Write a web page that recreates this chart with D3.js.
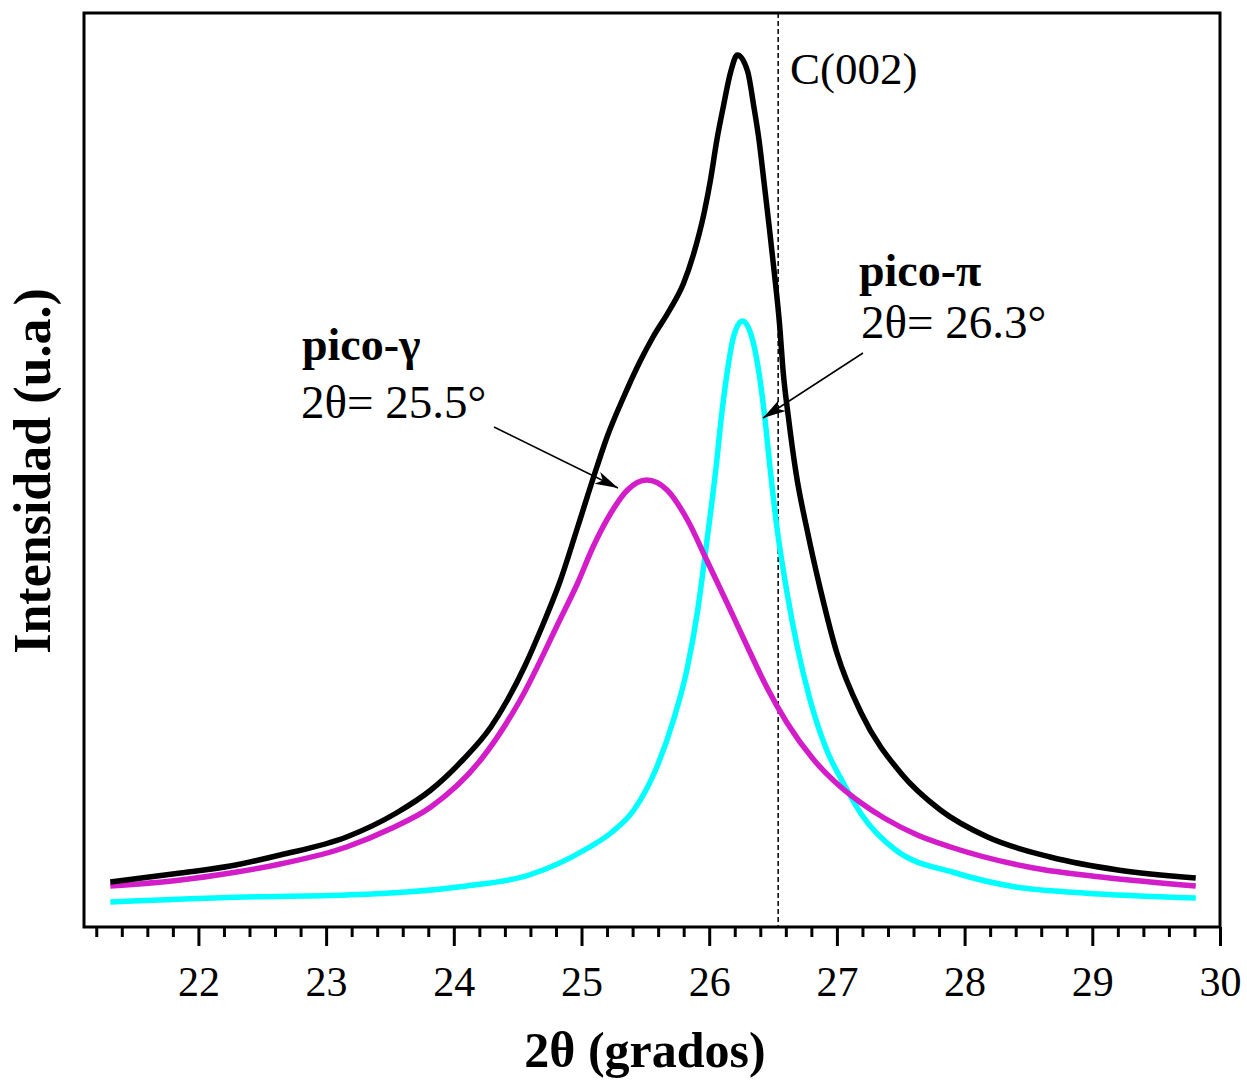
<!DOCTYPE html>
<html lang="es">
<head>
<meta charset="UTF-8">
<title>Intensidad vs 2θ</title>
<script src="https://d3js.org/d3.v7.min.js"></script>
<style>
  body { margin: 0; background: #fff; }
  svg { display: block; }
  text { font-family: "Liberation Serif", "Times New Roman", serif; fill: #000; }
</style>
</head>
<body>
<svg id="chart" width="1247" height="1080"></svg>
<script>
// 2θ (grados) vs intensidad (u.a.)
const totalX = [21.31, 21.86, 22.25, 22.64, 23.16, 23.55, 23.82, 24.07, 24.29, 24.42, 24.56, 24.68, 24.83, 24.97, 25.12,
  25.20, 25.33, 25.46, 25.56, 25.69, 25.80, 25.88, 25.96, 26.01, 26.06, 26.11, 26.17, 26.22, 26.30, 26.35,
  26.39, 26.43, 26.47, 26.51, 26.55, 26.58, 26.62, 26.68, 26.77, 26.87, 27.00, 27.19, 27.50, 27.81, 28.18,
  28.67, 29.20, 29.81];
const totalY = [45, 54, 61, 72, 90, 114, 137, 167, 200, 227, 262, 297, 345, 400, 460,
  490, 530, 566, 590, 617, 644, 674, 714, 747, 787, 820, 856, 872, 856, 820,
  787, 744, 700, 654, 604, 554, 510, 454, 395, 338, 274, 214, 154, 117, 90,
  70, 57, 49];

const gammaX = [21.31, 21.86, 22.25, 22.64, 23.16, 23.50, 23.82, 24.21, 24.52, 24.83, 24.97, 25.09, 25.23, 25.36, 25.51,
  25.67, 25.83, 25.98, 26.14, 26.30, 26.45, 26.61, 26.82, 27.03, 27.19, 27.37, 27.63, 27.89, 28.54, 29.07, 29.81];
const gammaY = [41, 47, 54, 63, 80, 98, 120, 167, 227, 307, 344, 380, 414, 437, 447,
  437, 407, 367, 324, 280, 240, 204, 167, 140, 124, 109, 92, 80, 59, 50, 41];

const piX = [21.31, 22.38, 23.16, 23.63, 24.10, 24.59, 25.05, 25.23, 25.41, 25.59, 25.72, 25.83, 25.91, 25.98,
  26.06, 26.09, 26.14, 26.19, 26.26, 26.34, 26.39, 26.44, 26.47, 26.53, 26.61, 26.69, 26.79, 26.92, 27.05,
  27.19, 27.46, 27.93, 28.40, 28.93, 29.81];
const piY = [25, 30, 32, 35, 41, 52, 79, 94, 117, 160, 207, 260, 317, 384,
  467, 504, 554, 590, 606, 587, 554, 504, 467, 400, 334, 280, 227, 177, 144,
  113, 77, 54, 40, 34, 29];

const majorTicks = [22, 23, 24, 25, 26, 27, 28, 29, 30];
const minorTicks = d3.range(106, 150).map(d => d / 5).filter(d => d % 1 !== 0);
const c002 = 26.54;

const svg = d3.select("#chart");
const plotLeft = 84, plotRight = 1220, plotTop = 13, plotBottom = 927;

const x = d3.scaleLinear().domain([21.104, 30]).range([plotLeft, plotRight]);
const y = d3.scaleLinear().domain([0, 914]).range([plotBottom, plotTop]);

// dashed C(002) line
svg.append("line")
  .attr("x1", x(c002)).attr("x2", x(c002))
  .attr("y1", plotTop).attr("y2", plotBottom)
  .attr("stroke", "#000").attr("stroke-width", 1.5)
  .attr("stroke-dasharray", "5,3");

const line = d3.line()
  .x(d => x(d[0]))
  .y(d => y(d[1]))
  .curve(d3.curveMonotoneX);

const series = [
  { xs: piX, ys: piY, color: "#00FFFF" },
  { xs: gammaX, ys: gammaY, color: "#D21DC8" },
  { xs: totalX, ys: totalY, color: "#000000" }
];

series.forEach(s => {
  svg.append("path")
    .datum(s.xs.map((v, i) => [v, s.ys[i]]))
    .attr("fill", "none")
    .attr("stroke", s.color)
    .attr("stroke-width", 5.5)
    .attr("stroke-linejoin", "round")
    .attr("d", line);
});

// frame
svg.append("rect")
  .attr("x", plotLeft).attr("y", plotTop)
  .attr("width", plotRight - plotLeft).attr("height", plotBottom - plotTop)
  .attr("fill", "none").attr("stroke", "#000").attr("stroke-width", 3);

// x axis: minor + major ticks
const minorAxis = svg.append("g")
  .attr("transform", `translate(0,${plotBottom})`)
  .call(d3.axisBottom(x).tickValues(minorTicks).tickSize(10).tickFormat(""));
minorAxis.select(".domain").remove();
minorAxis.selectAll("line").attr("stroke-width", 3);

const majorAxis = svg.append("g")
  .attr("transform", `translate(0,${plotBottom})`)
  .call(d3.axisBottom(x).tickValues(majorTicks).tickSize(19).tickFormat(d3.format("d")));
majorAxis.select(".domain").remove();
majorAxis.selectAll("line").attr("stroke-width", 3);
majorAxis.selectAll("text")
  .attr("y", 69).attr("dy", null)
  .style("font-family", "'Liberation Serif', serif")
  .style("font-size", "42px")
  .attr("fill", "#000");

// axis titles
svg.append("text")
  .attr("x", 645).attr("y", 1067)
  .attr("text-anchor", "middle")
  .style("font-size", "50px").style("font-weight", "bold")
  .text("2θ (grados)");

svg.append("text")
  .attr("transform", "translate(50,471) rotate(-90)")
  .attr("text-anchor", "middle")
  .style("font-size", "52px").style("font-weight", "bold")
  .text("Intensidad (u.a.)");

// annotations
svg.append("text").attr("x", 790).attr("y", 84)
  .style("font-size", "45px").text("C(002)");

svg.append("text").attr("x", 302).attr("y", 360)
  .style("font-size", "46px").style("font-weight", "bold").text("pico-γ");
svg.append("text").attr("x", 301).attr("y", 418)
  .style("font-size", "47px").text("2θ= 25.5°");

svg.append("text").attr("x", 859).attr("y", 286)
  .style("font-size", "46px").style("font-weight", "bold").text("pico-π");
svg.append("text").attr("x", 861).attr("y", 338)
  .style("font-size", "47px").text("2θ= 26.3°");

// arrows
svg.append("defs").append("marker")
  .attr("id", "head")
  .attr("viewBox", "-24 -8 26 16")
  .attr("refX", 0).attr("refY", 0)
  .attr("markerWidth", 26).attr("markerHeight", 16)
  .attr("markerUnits", "userSpaceOnUse")
  .attr("orient", "auto")
  .append("path")
  .attr("d", "M0,0 L-23,-6.5 L-17,0 L-23,6.5 Z")
  .attr("fill", "#000");

[[494, 427, 618, 488], [863, 353, 763, 418]].forEach(a => {
  svg.append("line")
    .attr("x1", a[0]).attr("y1", a[1]).attr("x2", a[2]).attr("y2", a[3])
    .attr("stroke", "#000").attr("stroke-width", 1.5)
    .attr("marker-end", "url(#head)");
});
</script>
</body>
</html>
